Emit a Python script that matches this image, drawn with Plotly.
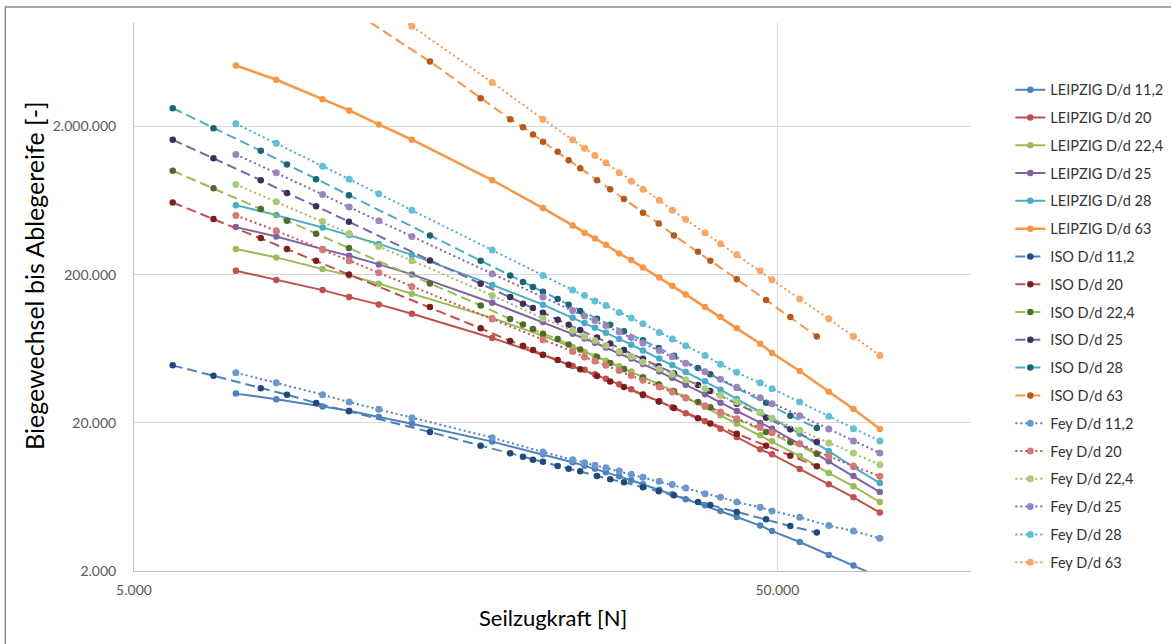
import plotly.graph_objects as go
import math

# ---------------- data ----------------
force_leipzig_fey = [7200, 8320, 9820, 10800, 12010, 13520, 18020, 21610, 24030, 25080, 26030, 27070, 28390,
                     29640, 30910, 32770, 34330, 36020, 38600, 40800, 43250, 47030, 49060, 54170, 60120, 65660, 72160]
force_iso = [5743, 6645, 7871, 8645, 9595, 10790, 14420, 17290, 19220, 20120, 20850, 21610, 22780, 23690,
             24690, 26220, 27490, 28880, 30910, 32700, 34540, 37640, 39340, 43240, 48020, 52380, 57590]

leipzig_11_2 = [31500, 28900, 25800, 24100, 21900, 19750, 14940, 12260, 10830, 10250, 9790, 9270, 8710, 8190,
                7690, 7060, 6590, 6090, 5550, 5080, 4630, 4050, 3720, 3140, 2565, 2175, 1814]
leipzig_20 = [213000, 184500, 157400, 141200, 126100, 109100, 74700, 57350, 48340, 45570, 42490, 39620, 36380,
              33660, 31140, 27930, 25450, 23180, 20470, 18280, 16040, 13250, 12260, 9756, 7693, 6284, 4956]
leipzig_22_4 = [298600, 261700, 218200, 197900, 173900, 148900, 102200, 77270, 64940, 60270, 56470, 52570, 48190,
                44380, 40740, 36320, 32980, 29630, 25570, 22470, 19750, 16470, 15010, 11940, 9169, 7458, 5844]
leipzig_25 = [419000, 362600, 297700, 268700, 234700, 200900, 129450, 95760, 79970, 74100, 69430, 64530, 59070,
              54310, 49860, 44380, 40240, 36150, 31140, 27370, 24030, 19940, 18280, 14370, 11010, 8752, 6825]
leipzig_28 = [589700, 504900, 417100, 371100, 322700, 272000, 170700, 125500, 102540, 94290, 87800, 81100, 73760,
              67400, 61500, 54400, 49170, 44040, 38110, 33500, 28950, 23650, 21350, 16910, 12900, 10060, 7850]
leipzig_63 = [5168000, 4139000, 3061000, 2569000, 2067000, 1629000, 869700, 562900, 430200, 384100, 351600, 318700,
              278500, 250900, 224000, 191800, 168600, 147300, 120900, 103500, 86850, 68460, 59160, 44730, 32470,
              24790, 18160]

iso_11_2 = [48870, 41640, 34190, 31000, 27200, 23910, 17340, 14035, 12451, 11829, 11289, 10910, 10222, 9817,
            9414, 8752, 8313, 7936, 7341, 6899, 6483, 5843, 5577, 5003, 4466, 4024, 3632]
iso_20 = [615000, 474500, 353200, 297700, 248600, 200900, 120900, 86850, 71280, 66360, 61970, 57710, 53060,
          49400, 45920, 41380, 38050, 34880, 30850, 27850, 25210, 21510, 19820, 16910, 14035, 12015, 10174]
iso_22_4 = [1006400, 768000, 554200, 462800, 378100, 302400, 174700, 124140, 100330, 92400, 85910, 79970, 73530,
            67720, 62460, 55600, 50720, 46140, 40490, 36320, 32680, 27670, 25450, 21180, 17340, 14774, 12393]
iso_25 = [1629000, 1224100, 869700, 710700, 580600, 455700, 249700, 173900, 141220, 127450, 119040, 110820, 99400,
          91970, 84820, 75380, 68570, 62070, 54060, 48190, 43030, 35980, 32830, 26910, 21690, 18077, 14844]
iso_28 = [2662000, 1951000, 1373000, 1109800, 883300, 688800, 368300, 248600, 197800, 178300, 165000, 153600,
          136900, 125490, 113620, 100960, 91830, 83130, 72170, 64030, 56830, 47000, 42620, 34450, 27370, 22370, 18450]
iso_63 = [82480000, 54660000, 33660000, 25610000, 18850000, 12527000, 5500000, 3109000, 2244000, 1982000, 1769000,
          1579000, 1352000, 1186600, 1047900, 869700, 756000, 647400, 524100, 443800, 368300, 285900, 248600,
          186700, 134800, 103500, 76670]

fey_11_2 = [43630, 37350, 31000, 27630, 24670, 21680, 15892, 12706, 11289, 10778, 10334, 9940, 9458, 8986,
            8576, 8060, 7657, 7262, 6657, 6284, 5843, 5381, 5080, 4607, 4049, 3723, 3325]
fey_20 = [502500, 396200, 294900, 248600, 206300, 166800, 100330, 72850, 60740, 55600, 52240, 48870, 45210,
          41830, 38710, 34880, 32270, 29400, 26040, 23650, 21350, 18570, 17176, 14478, 11885, 10222, 8711]
fey_22_4 = [813500, 621700, 457800, 379900, 310500, 248600, 144990, 101430, 84170, 76670, 72060, 66670, 60740,
            56200, 51440, 46420, 42490, 39130, 34030, 30660, 27630, 23540, 21450, 17800, 14614, 12509, 10447]
fey_25 = [1296600, 975600, 696400, 571700, 462800, 362600, 203200, 141220, 114860, 105450, 98020, 90700, 82360,
          75500, 69320, 61690, 55860, 50410, 44180, 39310, 34720, 29580, 26950, 22370, 18160, 15077, 12509]
fey_28 = [2089000, 1545300, 1081000, 883300, 704100, 545600, 293100, 197800, 157900, 144540, 132710, 124140,
          111340, 101900, 93410, 81600, 73530, 66360, 57070, 49630, 43830, 37230, 34030, 27630, 22130, 18280, 15077]
fey_63 = [64030000, 41450000, 25210000, 18770000, 13540000, 9517000, 3968000, 2244000, 1629000, 1430100, 1276600,
          1139600, 975600, 856300, 756200, 637400, 545600, 472300, 384100, 323700, 272900, 212800, 185100, 136900,
          100960, 76670, 57070]

ratios = ["11,2", "20", "22,4", "25", "28", "63"]
leipzig = [leipzig_11_2, leipzig_20, leipzig_22_4, leipzig_25, leipzig_28, leipzig_63]
iso = [iso_11_2, iso_20, iso_22_4, iso_25, iso_28, iso_63]
fey = [fey_11_2, fey_20, fey_22_4, fey_25, fey_28, fey_63]

x_tickvals = [5000, 50000]
x_ticktext = ["5.000", "50.000"]
y_tickvals = [2000, 20000, 200000, 2000000]
y_ticktext = ["2.000", "20.000", "200.000", "2.000.000"]

# ---------------- styles ----------------
base_colors = ["#4F81BD", "#C0504D", "#9BBB59", "#8064A2", "#4BACC6", "#F79646"]
dark_colors = ["#1F4A7A", "#7B1E1C", "#4F6B28", "#3F2D5C", "#1B6474", "#B45A1C"]
light_colors = ["#6A97CF", "#D47977", "#A9CA78", "#9C85BE", "#62C0D6", "#F9A666"]

FONT = "Lato, 'Open Sans', sans-serif"

fig = go.Figure()

def add(name, xs, ys, lcolor, mcolor, dash, width=2, msize=6.5):
    fig.add_trace(go.Scatter(
        x=xs, y=ys, name=name, legendgroup=name, mode="lines+markers",
        line=dict(color=lcolor, width=width, dash=dash),
        marker=dict(color=mcolor, size=msize),
    ))

for i, r in enumerate(ratios):
    add("LEIPZIG D/d " + r, force_leipzig_fey, leipzig[i], base_colors[i], base_colors[i], "solid",
        width=2.5 if r == "63" else 2, msize=6.5)
for i, r in enumerate(ratios):
    add("ISO D/d " + r, force_iso, iso[i], base_colors[i], dark_colors[i], "10px,5px", msize=6.5)
for i, r in enumerate(ratios):
    add("Fey D/d " + r, force_leipzig_fey, fey[i], base_colors[i], light_colors[i], "2px,3px", msize=7)

# layout in screen pixels (body margin removed in the page)
W, H = 1171, 644
L, R, T, B = 134.3, 970.7, 22.7, 570.7
pw, ph = R - L, B - T

def px(xs):
    return (xs - L) / pw

def py(ys):
    return (B - ys) / ph

fig.update_layout(
    width=W, height=H, autosize=False,
    margin=dict(l=L, r=W - R, t=T, b=H - B, pad=0, autoexpand=False),
    paper_bgcolor="white", plot_bgcolor="white",
    font=dict(family=FONT, color="#404040"),
    showlegend=True,
    legend=dict(
        x=px(1010), xanchor="left", y=py(73.4), yanchor="top",
        font=dict(size=14.5, color="#333333", family=FONT),
        tracegroupgap=5.95, itemwidth=30, bgcolor="rgba(0,0,0,0)",
    ),
    xaxis=dict(
        type="log", range=[math.log10(5000), 5],
        tickvals=x_tickvals, ticktext=x_ticktext,
        showgrid=True, gridcolor="#D9D9D9", gridwidth=1,
        showline=True, linecolor="#BFBFBF", linewidth=1,
        zeroline=False, ticks="", tickfont=dict(size=14, color="#595959", family=FONT),
        ticklabelstandoff=6,
    ),
    yaxis=dict(
        type="log", range=[math.log10(2000), 7],
        tickvals=y_tickvals, ticktext=y_ticktext,
        showgrid=True, gridcolor="#D9D9D9", gridwidth=1,
        showline=True, linecolor="#BFBFBF", linewidth=1,
        zeroline=False, ticks="", tickfont=dict(size=14, color="#595959", family=FONT),
        ticklabelstandoff=14,
    ),
    annotations=[
        dict(text="Biegewechsel bis Ablegereife [-]", xref="paper", yref="paper",
             x=px(35), y=py(275), textangle=-90, showarrow=False,
             font=dict(size=25, color="#000000", family=FONT), xanchor="center", yanchor="middle"),
        dict(text="Seilzugkraft [N]", xref="paper", yref="paper",
             x=0.5, y=py(617), showarrow=False,
             font=dict(size=22, color="#000000", family=FONT), xanchor="center", yanchor="middle"),
    ],
    shapes=[
        dict(type="rect", xref="paper", yref="paper",
             x0=px(5.7), x1=px(1250), y0=py(720), y1=py(6.7),
             line=dict(color="#8C8C8C", width=1.5), fillcolor="rgba(0,0,0,0)", layer="below"),
    ],
)

fig.write_html(
    "out.html",
    config={"displayModeBar": False},
    post_script="document.body.style.margin='0';document.body.style.overflow='hidden';",
)
